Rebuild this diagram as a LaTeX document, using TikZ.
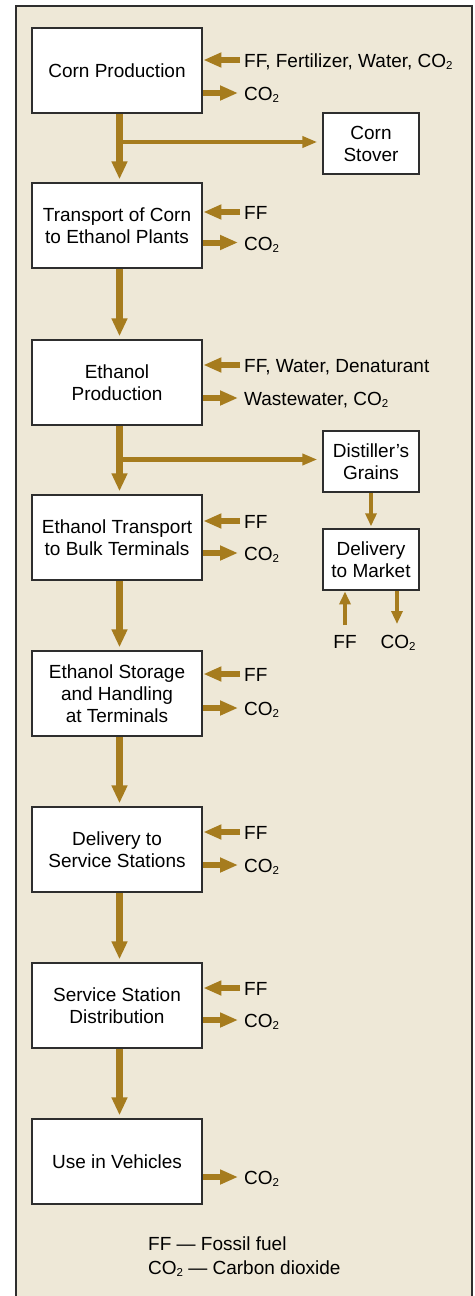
\documentclass[tikz,border=0pt]{standalone}
\usepackage{fontspec}
\setmainfont{Liberation Sans}
\usetikzlibrary{arrows.meta}
\definecolor{bgc}{HTML}{EEE8D7}
\definecolor{arr}{HTML}{A67C1E}
\definecolor{edge}{HTML}{2E2E2E}
\newcommand{\COt}{CO\raisebox{-0.2ex}{\fontsize{11.5}{11.5}\selectfont 2}}
\tikzset{
  stagebox/.style={draw=edge, line width=1.4pt, fill=white, minimum width=170pt, minimum height=85pt, align=center, inner sep=0pt, font=\fontsize{19}{22}\selectfont},
  sidebox/.style={draw=edge, line width=1.4pt, fill=white, minimum width=96pt, minimum height=61pt, align=center, inner sep=0pt, font=\fontsize{19}{22}\selectfont},
  lbl/.style={anchor=base west, inner sep=0pt, font=\fontsize{19}{22}\selectfont},
  lblc/.style={anchor=base, inner sep=0pt, font=\fontsize{19}{22}\selectfont},
  mainarrow/.style={draw=arr, line width=6.5pt, -{Triangle[length=18pt,width=15pt]}, arr},
  sidearrow/.style={draw=arr, line width=6pt, -{Triangle[length=18pt,width=14pt]}, arr},
  brancharrow/.style={draw=arr, line width=4.5pt, -{Triangle[length=15pt,width=11pt]}, arr},
  smallarrow/.style={draw=arr, line width=4pt, -{Triangle[length=13pt,width=11pt]}, arr},
}
\begin{document}
\begin{tikzpicture}[x=1pt,y=-1pt]
\useasboundingbox (0,0) rectangle (474,1296);
\begin{scope}
\clip (0,0) rectangle (474,1296);
\fill[bgc] (16,6) rectangle (472,1310);
\draw[edge, line width=1.6pt] (16,1310) -- (16,6) -- (472,6) -- (472,1310);
\end{scope}

% main boxes
\node[stagebox] (b1) at (117,70.5) {Corn Production};
\node[stagebox] (b2) at (117,225.5) {Transport of Corn\\to Ethanol Plants};
\node[stagebox] (b3) at (117,382.5) {Ethanol\\Production};
\node[stagebox] (b4) at (117,537.5) {Ethanol Transport\\to Bulk Terminals};
\node[stagebox] (b5) at (117,693.5) {Ethanol Storage\\and Handling\\at Terminals};
\node[stagebox] (b6) at (117,849.5) {Delivery to\\Service Stations};
\node[stagebox] (b7) at (117,1005.5) {Service Station\\Distribution};
\node[stagebox] (b8) at (117,1161.5) {Use in Vehicles};

% side boxes
\node[sidebox] (s1) at (371,143.5) {Corn\\Stover};
\node[sidebox] (s2) at (371,461.5) {Distiller’s\\Grains};
\node[sidebox] (s3) at (371,559.5) {Delivery\\to Market};

% main vertical arrows
\foreach \a/\b in {b1/b2,b2/b3,b3/b4,b4/b5,b5/b6,b6/b7,b7/b8}{
  \draw[mainarrow] ([xshift=2.5pt,yshift=-0.7pt]\a.south) -- ([xshift=2.5pt,yshift=3pt]\b.north);
}

% branch arrows
\coordinate (j1) at (119.5,142);
\draw[brancharrow] (j1) -- ([xshift=-5pt]s1.west |- j1);
\coordinate (j2) at (119.5,459.5);
\draw[brancharrow] (j2) -- ([xshift=-5pt]s2.west |- j2);
\draw[smallarrow] ([yshift=-0.7pt]s2.south) -- ([yshift=2pt]s3.north);

% inputs and outputs
\foreach \n/\iy/\oy in {1/60/93, 2/212/242.5, 3/365/398, 4/521/553, 5/674/708, 6/832/865, 7/988/1020}{
  \coordinate (i\n) at (240,\iy);
  \draw[sidearrow] (i\n) -- ([xshift=0.7pt]b\n.east |- i\n);
  \coordinate (o\n) at (238,\oy);
  \draw[sidearrow] ([xshift=0.7pt]b\n.east |- o\n) -- (o\n);
}
\coordinate (o8) at (238,1177);
\draw[sidearrow] ([xshift=0.7pt]b8.east |- o8) -- (o8);

\node[lbl] (l1i) at (244,67.5) {FF, Fertilizer, Water, \COt};
\node[lbl] (l1o) at (244,100.5) {\COt};
\node[lbl] (l2i) at (244,219.5) {FF};
\node[lbl] (l2o) at (244,250) {\COt};
\node[lbl] (l3i) at (244,372.5) {FF, Water, Denaturant};
\node[lbl] (l3o) at (244,405.5) {Wastewater, \COt};
\node[lbl] (l4i) at (244,528.5) {FF};
\node[lbl] (l4o) at (244,560.5) {\COt};
\node[lbl] (l5i) at (244,681.5) {FF};
\node[lbl] (l5o) at (244,715.5) {\COt};
\node[lbl] (l6i) at (244,839.5) {FF};
\node[lbl] (l6o) at (244,872.5) {\COt};
\node[lbl] (l7i) at (244,995.5) {FF};
\node[lbl] (l7o) at (244,1027.5) {\COt};
\node[lbl] (l8o) at (244,1184.5) {\COt};

% delivery to market inputs/outputs
\coordinate (mff) at (345,625);
\draw[smallarrow] (mff) -- ([yshift=-0.7pt]s3.south -| mff);
\coordinate (mco) at (397,624);
\draw[smallarrow] ([yshift=-0.7pt]s3.south -| mco) -- (mco);
\node[lblc] (lff) at (345,648) {FF};
\node[lblc] (lco) at (398,648) {\COt};

% legend
\node[lbl] (leg1) at (148,1250) {FF — Fossil fuel};
\node[lbl] (leg2) at (148,1274) {\COt{} — Carbon dioxide};
\end{tikzpicture}
\end{document}
